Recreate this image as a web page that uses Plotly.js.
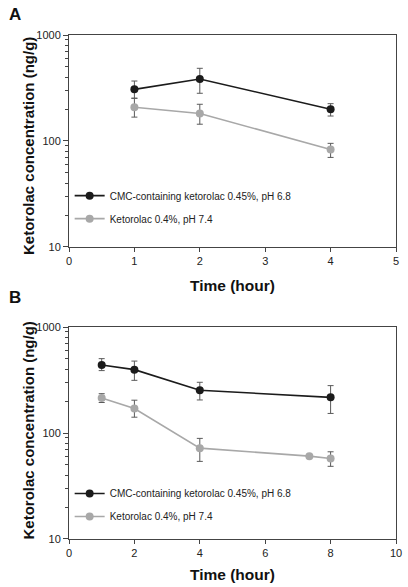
<!DOCTYPE html>
<html>
<head>
<meta charset="utf-8">
<script src="https://cdn.plot.ly/plotly-3.0.1.min.js"></script>
<style>html,body{margin:0;padding:0;background:#fff;}#chart{width:408px;height:587px;}</style>
</head>
<body>
<div id="chart"></div>
<script>
// Panel A data
const timeA = [1, 2, 4];
const cmcA = [307, 385, 199];
const cmcAErrPlus = [61, 100, 26];
const cmcAErrMinus = [54, 103, 27];
const ketA = [208, 182, 83];
const ketAErrPlus = [45, 40, 12];
const ketAErrMinus = [40, 38, 13];

// Panel B data
const timeBcmc = [1, 2, 4, 8];
const cmcB = [438, 396, 253, 217];
const cmcBErrPlus = [65, 81, 48, 63];
const cmcBErrMinus = [50, 82, 48, 64];
const timeBket = [1, 2, 4, 7.35, 8];
const ketB = [214, 170, 72, 60.5, 57.5];
const ketBErrPlus = [21, 34, 17, 0, 9];
const ketBErrMinus = [20, 29, 18, 0, 9];

const seriesNames = ["CMC-containing ketorolac 0.45%, pH 6.8", "Ketorolac 0.4%, pH 7.4"];
const xTicksA = [0, 1, 2, 3, 4, 5];
const xTicksB = [0, 2, 4, 6, 8, 10];
const yTicks = [10, 100, 1000];
const yMinorTicks = [20, 30, 40, 50, 60, 70, 80, 90, 200, 300, 400, 500, 600, 700, 800, 900];

const black = "#1b1b1b";
const grey = "#a8a8a8";
const errColor = "#5a5a5a";

function tr(x, y, ep, em, name, color, xa, ya, leg, lgroup) {
  return {
    x: x, y: y, name: name, type: "scatter", mode: "lines+markers",
    xaxis: xa, yaxis: ya, legend: leg, legendgroup: lgroup,
    line: {color: color, width: 1.6},
    marker: {color: color, size: 8, line: {width: 0}},
    error_y: {type: "data", symmetric: false, array: ep, arrayminus: em,
      color: errColor, thickness: 1, width: 3}
  };
}

const data = [
  tr(timeA, cmcA, cmcAErrPlus, cmcAErrMinus, seriesNames[0], black, "x", "y", "legend", "a1"),
  tr(timeA, ketA, ketAErrPlus, ketAErrMinus, seriesNames[1], grey, "x", "y", "legend", "a2"),
  tr(timeBcmc, cmcB, cmcBErrPlus, cmcBErrMinus, seriesNames[0], black, "x2", "y2", "legend2", "b1"),
  tr(timeBket, ketB, ketBErrPlus, ketBErrMinus, seriesNames[1], grey, "x2", "y2", "legend2", "b2")
];

const font = {family: "Liberation Sans, Arial, sans-serif", color: "#222"};
const axisLine = "#444";

function xaxis(ticks, range, anchor) {
  return {
    range: range, tickvals: ticks, ticktext: ticks.map(String), anchor: anchor,
    showline: true, linecolor: axisLine, linewidth: 1, mirror: true,
    ticks: "outside", ticklen: 4, tickcolor: axisLine, tickwidth: 1,
    showgrid: false, zeroline: false,
    tickfont: {family: font.family, size: 11, color: "#222"}
  };
}
function yaxis(domain, anchor) {
  return {
    type: "log", range: [1, 3], domain: domain, anchor: anchor,
    tickvals: yTicks, ticktext: yTicks.map(String),
    showline: true, linecolor: axisLine, linewidth: 1, mirror: true,
    ticks: "outside", ticklen: 5, tickcolor: axisLine, tickwidth: 1,
    minor: {tickmode: "array", tickvals: yMinorTicks, ticks: "outside", ticklen: 3, tickcolor: axisLine, tickwidth: 1, showgrid: false},
    showgrid: false, zeroline: false,
    tickfont: {family: font.family, size: 11, color: "#222"}
  };
}

const domA = [0.5794, 1.0];
const domB = [0.0, 0.4206];

const legendStyle = {
  font: {family: font.family, size: 10, color: "#222"},
  bgcolor: "rgba(0,0,0,0)", borderwidth: 0,
  xanchor: "left", yanchor: "top", traceorder: "grouped", tracegroupgap: 4,
  itemwidth: 30
};

const titleFont = {family: font.family, size: 15.5, color: "#111"};

const layout = {
  width: 408, height: 587,
  margin: {l: 69, r: 12, t: 35, b: 48},
  paper_bgcolor: "#fff", plot_bgcolor: "#fff",
  font: font,
  showlegend: true,
  xaxis: xaxis(xTicksA, [0, 5], "y"),
  yaxis: yaxis(domA, "x"),
  xaxis2: xaxis(xTicksB, [0, 10], "y2"),
  yaxis2: yaxis(domB, "x2"),
  legend: Object.assign({x: 0.002, y: 0.71}, legendStyle),
  legend2: Object.assign({x: 0.002, y: 0.119}, legendStyle),
  annotations: [
    {text: "<b>A</b>", xref: "paper", yref: "paper", x: -0.19, y: (539 - 15) / 504, xanchor: "left", yanchor: "middle", showarrow: false, font: {family: font.family, size: 17, color: "#111"}},
    {text: "<b>B</b>", xref: "paper", yref: "paper", x: -0.19, y: (539 - 298) / 504, xanchor: "left", yanchor: "middle", showarrow: false, font: {family: font.family, size: 17, color: "#111"}},
    {text: "<b>Time (hour)</b>", xref: "paper", yref: "paper", x: 0.5, y: 0.5794 - 39/504, xanchor: "center", yanchor: "middle", showarrow: false, font: titleFont},
    {text: "<b>Time (hour)</b>", xref: "paper", yref: "paper", x: 0.5, y: -35/504, xanchor: "center", yanchor: "middle", showarrow: false, font: titleFont},
    {text: "<b>Ketorolac concentration (ng/g)</b>", xref: "paper", yref: "paper", x: -41/327, y: (domA[0] + domA[1]) / 2 - 0.01, xanchor: "center", yanchor: "middle", textangle: -90, showarrow: false, font: {family: font.family, size: 15, color: "#111"}},
    {text: "<b>Ketorolac concentration (ng/g)</b>", xref: "paper", yref: "paper", x: -41/327, y: (domB[0] + domB[1]) / 2 + 0.005, xanchor: "center", yanchor: "middle", textangle: -90, showarrow: false, font: {family: font.family, size: 15, color: "#111"}}
  ]
};

Plotly.newPlot("chart", data, layout, {displayModeBar: false, staticPlot: true});
</script>
</body>
</html>
